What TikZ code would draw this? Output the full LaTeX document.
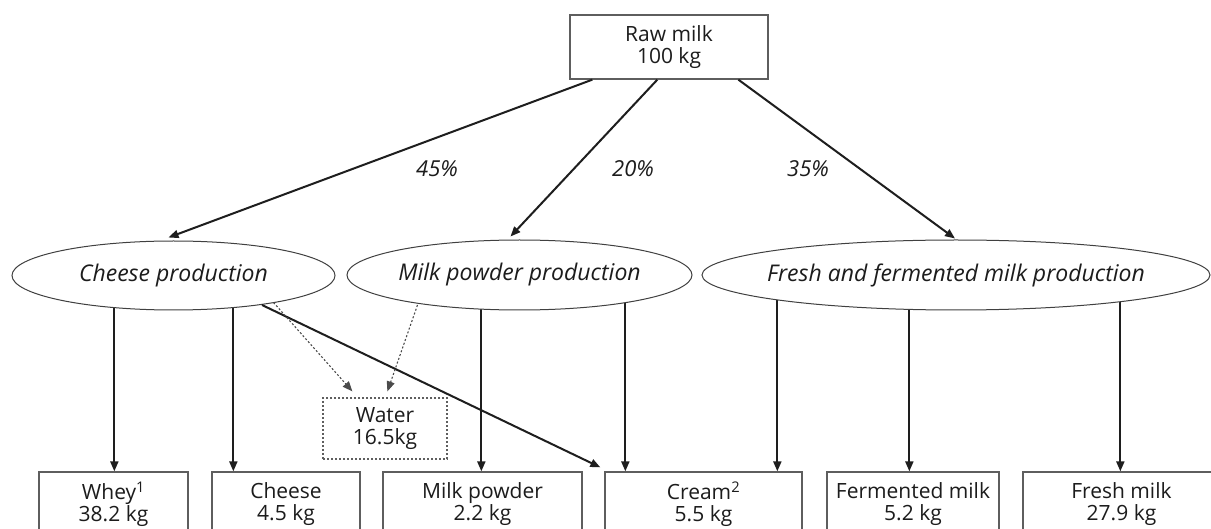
\documentclass[tikz,border=0pt]{standalone}
\usepackage{fontspec}
\setmainfont{Open Sans}
\usetikzlibrary{arrows.meta,shapes.geometric,calc,backgrounds}
\definecolor{ink}{HTML}{1E1E1E}
\definecolor{boxline}{HTML}{5E5E5E}
\definecolor{txt}{HTML}{1C1C1C}
\newcommand{\zw}[1]{\makebox[0pt]{#1}}
\tikzset{
  every node/.style={font=\fontsize{21}{21.5}\selectfont, text=txt},
  box/.style={draw=boxline, line width=1.3pt, rectangle, inner sep=0pt, align=center, fill=white},
  prod/.style={draw=ink!85, line width=1pt, ellipse, inner sep=0pt, fill=white, font=\fontsize{23}{23}\selectfont\itshape},
  waterbox/.style={draw=boxline, line width=1.2pt, dash pattern=on 2pt off 2pt, rectangle, inner sep=0pt, align=center, fill=white},
  arr/.style={draw=ink, line width=2pt, -{Triangle[length=10pt,width=8pt]}},
  dotarr/.style={draw=ink!80, line width=1.1pt, dash pattern=on 2pt off 2pt, -{Triangle[length=10pt,width=8pt]}},
  pct/.style={font=\fontsize{22}{22}\selectfont\itshape}
}
\begin{document}
\begin{tikzpicture}[x=1pt,y=-1pt]
\begin{scope}[on background layer]
\fill[white] (0,0) rectangle (1211,529);
\end{scope}
\useasboundingbox (0,0) rectangle (1211,529);
% top
\node[box, minimum width=198pt, minimum height=64pt] (raw) at (669,47) {Raw milk\\100 kg};
% production ellipses
\node[prod, minimum width=323pt, minimum height=69pt] (cheeseprod) at (173.5,275.5) {\zw{Cheese production}};
\node[prod, minimum width=345pt, minimum height=70pt] (powderprod) at (519.5,275) {\zw{Milk powder production}};
\node[prod, minimum width=508pt, minimum height=70pt] (freshprod) at (956,275) {\zw{Fresh and fermented milk production}};
% products
\node[box, minimum width=149pt, minimum height=64pt] (whey) at (113.5,504) {Whey\textsuperscript{1}\\38.2 kg};
\node[box, minimum width=148pt, minimum height=64pt] (cheese) at (286,504) {Cheese\\4.5 kg};
\node[box, minimum width=199pt, minimum height=64pt] (powder) at (482.5,504) {Milk powder\\2.2 kg};
\node[box, minimum width=197pt, minimum height=64pt] (cream) at (703.5,504) {Cream\textsuperscript{2}\\5.5 kg};
\node[box, minimum width=172pt, minimum height=64pt] (fermented) at (913,504) {Fermented milk\\5.2 kg};
\node[box, minimum width=197pt, minimum height=64pt] (fresh) at (1121.5,504) {Fresh milk\\27.9 kg};
\node[waterbox, minimum width=124pt, minimum height=61pt] (water) at (385,428.5) {Water\\16.5kg};
% percentages
\node[pct] (p45) at (437,169) {45\%};
\node[pct] (p20) at (633,169) {20\%};
\node[pct] (p35) at (808,169) {35\%};
% connector end coordinates
\coordinate (r1) at ($(raw.south west)+(23,0)$);
\coordinate (r2) at ($(raw.south west)+(88,0)$);
\coordinate (r3) at ($(raw.south west)+(169,0)$);
\coordinate (t1) at ($(cheeseprod.north)+(-5,-3)$);
\coordinate (t2) at ($(powderprod.north)+(-9,-3)$);
\coordinate (t3) at ($(freshprod.north)+(-1,-1)$);
\coordinate (wheyin) at ($(whey.north west)+(76,0)$);
\coordinate (cheesein) at ($(cheese.north west)+(22,0)$);
\coordinate (powderin) at ($(powder.north west)+(99,0)$);
\coordinate (creamin1) at ($(cream.north west)+(21,0)$);
\coordinate (creamin2) at ($(cream.north west)+(173,0)$);
\coordinate (creamcorner) at ($(cream.north west)+(-4,-4)$);
\coordinate (fermin) at ($(fermented.north west)+(83,0)$);
\coordinate (freshin) at ($(fresh.north west)+(98,0)$);
\coordinate (cheeseout) at ($(cheeseprod.center)+(88.5,29.5)$);
\coordinate (wat1) at ($(water.north west)+(30,-6)$);
\coordinate (wat2) at ($(water.north west)+(65,-6)$);
\coordinate (dot1) at ($(cheeseprod.center)+(100,27)$);
\coordinate (dot2) at ($(powderprod.center)+(-102,30)$);
% connectors
\draw[arr] (r1) -- (t1);
\draw[arr] (r2) -- (t2);
\draw[arr] (r3) -- (t3);
\begin{scope}[on background layer]
\draw[arr] (cheeseprod.center -| wheyin) -- (wheyin);
\draw[arr] (cheeseprod.center -| cheesein) -- (cheesein);
\draw[arr] (powderprod.center -| powderin) -- (powderin);
\draw[arr] (powderprod.center -| creamin1) -- (creamin1);
\draw[arr] (freshprod.center -| creamin2) -- (creamin2);
\draw[arr] (freshprod.center -| fermin) -- (fermin);
\draw[arr] (freshprod.center -| freshin) -- (freshin);
\end{scope}
\draw[arr] (cheeseout) -- (creamcorner);
\draw[dotarr] (dot1) -- (wat1);
\draw[dotarr] (dot2) -- (wat2);
\end{tikzpicture}
\end{document}
